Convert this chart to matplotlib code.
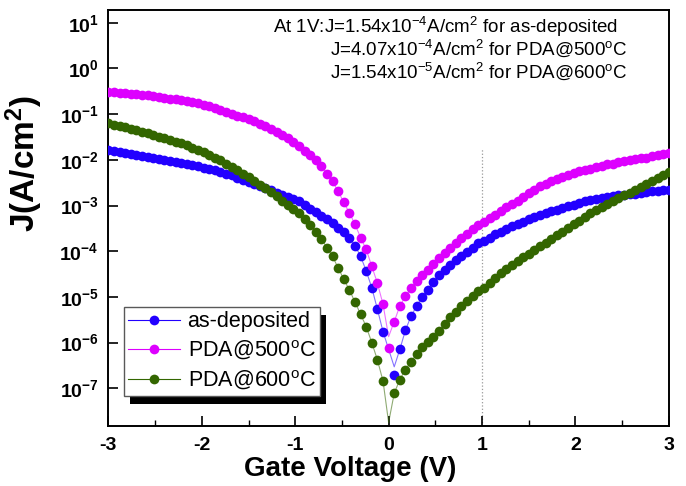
import numpy as np
import matplotlib
matplotlib.use('Agg')
import matplotlib.pyplot as plt
from matplotlib.lines import Line2D
from matplotlib import patheffects

# gate voltage sweep (V)
volts = [
    -3.00, -2.94, -2.88, -2.82, -2.76, -2.70, -2.64, -2.58, -2.52, -2.46,
    -2.40, -2.34, -2.28, -2.22, -2.16, -2.10, -2.04, -1.98, -1.92, -1.86,
    -1.80, -1.74, -1.68, -1.62, -1.56, -1.50, -1.44, -1.38, -1.32, -1.26,
    -1.20, -1.14, -1.08, -1.02, -0.96, -0.90, -0.84, -0.78, -0.72, -0.66,
    -0.60, -0.54, -0.48, -0.42, -0.36, -0.30, -0.24, -0.18, -0.12, -0.06,
    0.00,
    0.06, 0.12, 0.18, 0.24, 0.30, 0.36, 0.42, 0.48, 0.54, 0.60,
    0.66, 0.72, 0.78, 0.84, 0.90, 0.96, 1.02, 1.08, 1.14, 1.20,
    1.26, 1.32, 1.38, 1.44, 1.50, 1.56, 1.62, 1.68, 1.74, 1.80,
    1.86, 1.92, 1.98, 2.04, 2.10, 2.16, 2.22, 2.28, 2.34, 2.40,
    2.46, 2.52, 2.58, 2.64, 2.70, 2.76, 2.82, 2.88, 2.94, 3.00,
]

nan = float('nan')

# log10 of current density J (A/cm^2)
log_j_asdep = [
    -1.79, -1.81, -1.83, -1.85, -1.87, -1.89, -1.91, -1.94, -1.96, -1.98,
    -2.00, -2.02, -2.04, -2.07, -2.09, -2.11, -2.14, -2.17, -2.20, -2.23,
    -2.26, -2.30, -2.34, -2.39, -2.43, -2.48, -2.53, -2.57, -2.62, -2.67,
    -2.72, -2.76, -2.81, -2.86, -2.91, -2.98, -3.07, -3.15, -3.23, -3.30,
    -3.39, -3.49, -3.59, -3.70, -3.88, -4.11, -4.43, -4.80, -5.27, -5.76,
    nan,
    -6.71, -6.15, -5.73, -5.42, -5.20, -5.00, -4.84, -4.67, -4.53, -4.41,
    -4.30, -4.19, -4.11, -4.01, -3.92, -3.83, -3.77, -3.70, -3.63, -3.57,
    -3.51, -3.45, -3.40, -3.35, -3.30, -3.25, -3.21, -3.17, -3.13, -3.09,
    -3.05, -3.01, -2.98, -2.94, -2.91, -2.88, -2.85, -2.83, -2.81, -2.79,
    -2.78, -2.77, -2.75, -2.74, -2.72, -2.71, -2.69, -2.68, -2.66, -2.65,
]

log_j_pda500 = [
    -0.51, -0.52, -0.53, -0.54, -0.55, -0.56, -0.58, -0.59, -0.61, -0.62,
    -0.64, -0.66, -0.67, -0.69, -0.71, -0.73, -0.76, -0.80, -0.83, -0.87,
    -0.91, -0.95, -0.99, -1.03, -1.07, -1.11, -1.16, -1.21, -1.26, -1.32,
    -1.38, -1.45, -1.52, -1.61, -1.70, -1.80, -1.90, -2.01, -2.14, -2.30,
    -2.47, -2.69, -2.93, -3.16, -3.41, -3.70, -3.96, -4.33, -4.70, -5.16,
    -6.11,
    -5.54, -5.20, -4.99, -4.81, -4.66, -4.53, -4.40, -4.27, -4.15, -4.04,
    -3.93, -3.83, -3.72, -3.62, -3.52, -3.43, -3.36, -3.28, -3.20, -3.12,
    -3.04, -2.96, -2.89, -2.81, -2.72, -2.65, -2.58, -2.52, -2.47, -2.42,
    -2.37, -2.33, -2.29, -2.25, -2.22, -2.19, -2.16, -2.13, -2.10, -2.08,
    -2.05, -2.03, -2.01, -1.99, -1.97, -1.95, -1.92, -1.90, -1.87, -1.85,
]

log_j_pda600 = [
    -1.20, -1.23, -1.26, -1.29, -1.32, -1.35, -1.38, -1.42, -1.45, -1.49,
    -1.52, -1.56, -1.60, -1.64, -1.68, -1.73, -1.78, -1.83, -1.89, -1.95,
    -2.01, -2.08, -2.15, -2.22, -2.30, -2.38, -2.46, -2.54, -2.62, -2.71,
    -2.80, -2.89, -2.98, -3.07, -3.17, -3.30, -3.42, -3.57, -3.73, -3.92,
    -4.11, -4.37, -4.61, -4.85, -5.11, -5.38, -5.65, -6.00, -6.38, -6.84,
    nan,
    -7.11, -6.81, -6.59, -6.42, -6.25, -6.10, -5.98, -5.87, -5.74, -5.60,
    -5.45, -5.32, -5.20, -5.09, -4.98, -4.86, -4.80, -4.69, -4.58, -4.48,
    -4.39, -4.30, -4.21, -4.13, -4.05, -3.97, -3.89, -3.81, -3.73, -3.65,
    -3.57, -3.49, -3.41, -3.33, -3.25, -3.17, -3.10, -3.03, -2.96, -2.90,
    -2.84, -2.78, -2.72, -2.65, -2.59, -2.53, -2.46, -2.40, -2.33, -2.26,
]

# where the thin connecting line bottoms out (voltage, log10 J)
dip_asdep = (0.06, -6.53)
dip_pda500 = (0.00, -5.87)
dip_pda600 = (0.00, -7.75)

labels = ['as-deposited', 'PDA@500$^{\\mathregular{o}}$C', 'PDA@600$^{\\mathregular{o}}$C']
colors = ['#2200ff', '#dd00ff', '#336600']

y_tick_exps = [1, 0, -1, -2, -3, -4, -5, -6, -7]
x_ticks = [-3, -2, -1, 0, 1, 2, 3]

note_lines = [
    'At 1V:J=1.54x10$^{\\mathregular{-4}}$A/cm$^{\\mathregular{2}}$ for as-deposited',
    'J=4.07x10$^{\\mathregular{-4}}$A/cm$^{\\mathregular{2}}$ for PDA@500$^{\\mathregular{o}}$C',
    'J=1.54x10$^{\\mathregular{-5}}$A/cm$^{\\mathregular{2}}$ for PDA@600$^{\\mathregular{o}}$C',
]

plt.rcParams['font.family'] = ['Liberation Sans', 'DejaVu Sans']
plt.rcParams['mathtext.default'] = 'regular'


def draw_series(ax, log_j, dip, color):
    v = np.array(volts)
    j = 10.0 ** np.array(log_j)
    line_j = j.copy()
    line_j[volts.index(dip[0])] = 10.0 ** dip[1]
    ok = np.isfinite(line_j)
    ax.plot(v[ok], line_j[ok], color=color, lw=0.8, alpha=0.55, zorder=2)
    ax.plot(v, j, 'o', color=color, ms=7, mew=0, zorder=3)


def main():
    fig = plt.figure(figsize=(6.86, 4.86), dpi=100)
    ax = fig.add_axes([0.158, 0.124, 0.817, 0.855])

    for log_j, dip, color in zip([log_j_asdep, log_j_pda500, log_j_pda600],
                                 [dip_asdep, dip_pda500, dip_pda600], colors):
        draw_series(ax, log_j, dip, color)

    ax.set_yscale('log')
    ax.set_xlim(-3, 3)
    ax.set_ylim(10 ** -7.82, 10 ** 1.276)

    # dotted marker line at 1 V
    ax.axvline(1, ymin=0, ymax=0.668, color='0.6', ls=':', lw=0.9, zorder=1)

    ax.set_yticks([10.0 ** e for e in y_tick_exps])
    ax.set_yticklabels(['10$^{\\mathregular{%d}}$' % e for e in y_tick_exps],
                       fontsize=14, fontweight='bold')
    ax.yaxis.set_minor_locator(plt.NullLocator())
    ax.set_xticks(x_ticks)
    ax.set_xticklabels(['%d' % t for t in x_ticks], fontsize=14, fontweight='bold')
    ax.set_xticks([-2.5, -1.5, -0.5, 0.5, 1.5, 2.5], minor=True)
    ax.tick_params(which='major', direction='in', length=7, width=1.2, pad=8)
    ax.tick_params(axis='y', which='major', pad=7)
    ax.tick_params(which='minor', direction='in', length=4, width=1.0)
    for sp in ax.spines.values():
        sp.set_linewidth(1.4)

    ax.set_xlabel('Gate Voltage (V)', fontsize=20, fontweight='bold')
    ax.xaxis.set_label_coords(0.431, -0.072)
    ax.set_ylabel('J(A/cm$^{\\mathregular{2}}$)', fontsize=24, fontweight='bold')
    ax.yaxis.set_label_coords(-0.113, 0.632)

    # annotation in the upper right
    ax.text(0.294, 0.946, note_lines[0], transform=ax.transAxes, fontsize=13.5, va='baseline')
    ax.text(0.396, 0.892, note_lines[1], transform=ax.transAxes, fontsize=13.5, va='baseline')
    ax.text(0.396, 0.838, note_lines[2], transform=ax.transAxes, fontsize=13.5, va='baseline')

    handles = [Line2D([], [], color=c, lw=0.8, marker='o', ms=7, mew=0) for c in colors]
    leg = ax.legend(handles, labels, loc='lower left', bbox_to_anchor=(0.028, 0.071),
                    borderaxespad=0, fontsize=15.5, handlelength=2.4, handletextpad=0.35,
                    borderpad=0.2, labelspacing=0.3, fancybox=False, framealpha=1)
    frame = leg.get_frame()
    frame.set_edgecolor('0.35')
    frame.set_linewidth(1.0)
    frame.set_path_effects([patheffects.withSimplePatchShadow(offset=(4.5, -5.8),
                                                              shadow_rgbFace='k', alpha=1)])

    fig.savefig('out.png', dpi=100)


if __name__ == '__main__':
    main()
